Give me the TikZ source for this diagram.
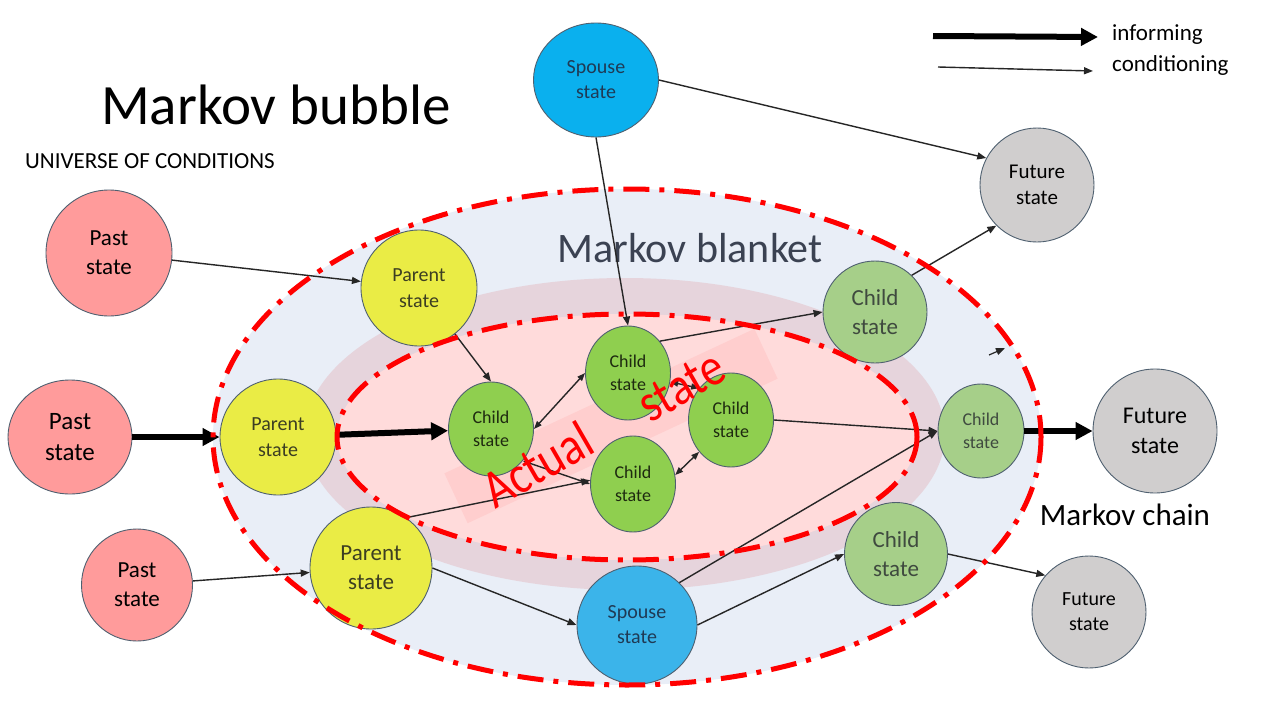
\documentclass[tikz,border=0pt]{standalone}
\usepackage{fontspec}
\setmainfont{Carlito}
\usetikzlibrary{shapes.geometric,arrows.meta}
\definecolor{outerc}{HTML}{E9EEF7}
\definecolor{bandc}{HTML}{E6D4DC}
\definecolor{innerc}{HTML}{FFDBDB}
\definecolor{stripc}{HTML}{FFC4C4}
\definecolor{pastc}{HTML}{FF9B9B}
\definecolor{parentc}{HTML}{EAEC45}
\definecolor{spousec}{HTML}{0AB0EE}
\definecolor{spousebc}{HTML}{3BB4EA}
\definecolor{childinc}{HTML}{8FCF4F}
\definecolor{childoutc}{HTML}{A6CF89}
\definecolor{futurec}{HTML}{D0CECE}
\definecolor{edgec}{HTML}{4F6070}
\definecolor{arrc}{HTML}{262626}
\definecolor{parenttxt}{HTML}{3C3E22}
\definecolor{childintxt}{HTML}{1E2A10}
\definecolor{childouttxt}{HTML}{3F4A3F}
\definecolor{spousetxt}{HTML}{1F3A55}
\definecolor{blankettxt}{HTML}{3B4252}
\definecolor{redc}{HTML}{FF0000}
\tikzset{
  st/.style={ellipse, draw=edgec, line width=0.9pt, inner sep=0pt, align=center},
  sz/.style 2 args={minimum width=#1pt, minimum height=#2pt},
  fs/.style 2 args={font=\fontsize{#1}{#2}\selectfont},
  past/.style={st, fill=pastc, text=black},
  parent/.style={st, fill=parentc, text=parenttxt},
  spouse/.style={st, fill=spousec, text=spousetxt},
  childin/.style={st, fill=childinc, text=childintxt},
  childout/.style={st, fill=childoutc, text=childouttxt},
  future/.style={st, fill=futurec, text=black},
  cond/.style={draw=arrc, line width=1.4pt, -{Triangle[length=9pt,width=7pt]}},
  inform/.style={draw=black, line width=6pt, -{Triangle[length=17pt,width=17pt]}},
  mutual/.style={draw=arrc, line width=1.4pt, {Triangle[length=8pt,width=6pt]}-{Triangle[length=8pt,width=6pt]}},
  redring/.style={draw=redc, line width=5pt, dash pattern=on 26pt off 10pt on 5pt off 10pt},
  wordart/.style={text=redc, inner sep=0pt, anchor=base west, font=\fontsize{54}{60}\selectfont,
    cm={0.736,0.425,-0.5,0.866,(0,0)}},
}
\begin{document}
\begin{tikzpicture}[x=1pt,y=-1pt]
\useasboundingbox (0,0) rectangle (1280,720);
\fill[white] (0,0) rectangle (1280,720);
% background regions
\fill[outerc] (627,437) ellipse [x radius=414, y radius=248];
\fill[bandc] (625,434) ellipse [x radius=320, y radius=156];
\fill[innerc] (627,437) ellipse [x radius=290, y radius=123];
\node[fill=stripc, opacity=0.55, rotate=25, minimum width=342pt, minimum height=55pt, inner sep=0pt] (strip) at (611,426) {};
% titles
\node[font=\fontsize{57}{68}\selectfont] (title) at (276,105) {Markov bubble};
\node[anchor=west, inner sep=0pt, font=\fontsize{23}{28}\selectfont] (universe) at (25,161) {UNIVERSE OF CONDITIONS};
\node[text=blankettxt, font=\fontsize{42}{50}\selectfont] (blanket) at (690,248) {Markov blanket};
\node[font=\fontsize{31}{37}\selectfont] (chain) at (1125,515) {Markov chain};
\node[anchor=west, inner sep=0pt, font=\fontsize{23}{28}\selectfont] (linf) at (1112,35) {informing};
\node[anchor=west, inner sep=0pt, font=\fontsize{23}{28}\selectfont] (lcond) at (1112,65) {conditioning};
% nodes
\node[past, sz={126}{126}, fs={23}{29}] (past1) at (109,253) {Past\\state};
\node[past, sz={124}{114}, fs={25}{31}] (past2) at (70,437) {Past\\state};
\node[past, sz={111}{112}, fs={23}{29}] (past3) at (137,585) {Past\\state};
\node[parent, sz={116}{116}, fs={20}{26}] (par1) at (419,288) {Parent\\state};
\node[parent, sz={116}{116}, fs={20}{26}] (par2) at (278,437) {Parent\\state};
\node[parent, sz={122}{122}, fs={23}{29}] (par3) at (371,568) {Parent\\state};
\node[spouse, sz={125}{114}, fs={20}{25}] (sp1) at (596,80) {Spouse\\state};
\node[spouse, fill=spousebc, sz={120}{118}, fs={20}{25}] (sp2) at (637,625) {Spouse\\state};
\node[childin, sz={85}{94}, fs={18}{23}] (chA) at (491,429) {Child\\state};
\node[childin, sz={85}{94}, fs={18}{23}] (chB) at (628,373) {Child\\state};
\node[childin, sz={85}{94}, fs={18}{23}] (chC) at (731,420) {Child\\state};
\node[childin, sz={85}{96}, fs={18}{23}] (chD) at (633,484) {Child\\state};
\node[childout, sz={104}{102}, fs={23}{29}] (chE) at (875,312) {Child\\state};
\node[childout, sz={86}{94}, fs={18}{23}] (chF) at (981,431) {Child\\state};
\node[childout, sz={103}{103}, fs={23}{29}] (chG) at (896,554) {Child\\state};
\node[future, sz={114}{114}, fs={21}{26}] (fut1) at (1037,185) {Future\\state};
\node[future, sz={124}{124}, fs={24}{30}] (fut2) at (1155,431) {Future\\state};
\node[future, sz={114}{112}, fs={20}{25}] (fut3) at (1089,612) {Future\\state};
% legend and free coordinates
\coordinate (li1) at (933,36);
\coordinate (li2) at (1098,37);
\coordinate (lc1) at (938,67);
\coordinate (lc2) at (1093,71);
\coordinate (s1) at (989,355);
\coordinate (s2) at (1005,348);
% connectors
\draw[inform] (li1) -- (li2);
\draw[cond] (lc1) -- (lc2);
\draw[cond, line width=1.2pt] (s1) -- (s2);
\draw[cond] (past1) -- (par1);
\draw[inform] (past2) -- (par2);
\draw[cond] (past3) -- (par3);
\draw[inform] (par2) -- (chA);
\draw[cond] (par1.-52) -- (chA.north);
\draw[cond] (par3.55) -- (chD.175);
\draw[cond] (par3.east) -- (sp2.west);
\draw[cond] (sp1.south) -- (chB.north);
\draw[cond] (sp1.east) -- (fut1.152);
\draw[mutual] (chA.east) -- (chB.west);
\draw[mutual] (chA.-45) -- (chD.west);
\draw[mutual] (chB.-12) -- (chC.135);
\draw[mutual] (chD.12) -- (chC.225);
\draw[cond] (chB.45) -- (chE.west);
\draw[cond] (chE.45) -- (fut1.225);
\draw[cond] (chC.east) -- (chF.west);
\draw[cond] (sp2.45) -- (chF.west);
\draw[cond] (sp2.east) -- (chG.west);
\draw[cond] (chG.east) -- (fut3.140);
\draw[inform] (chF.east) -- (fut2.west);
% red dash-dot rings
\draw[redring] (627,437) ellipse [x radius=414, y radius=248];
\draw[redring] (627,437) ellipse [x radius=290, y radius=123];
% actual state
\node[wordart] (actual) at (495,510) {Actual};
\node[wordart] (actstate) at (650,424) {state};
\end{tikzpicture}
\end{document}
